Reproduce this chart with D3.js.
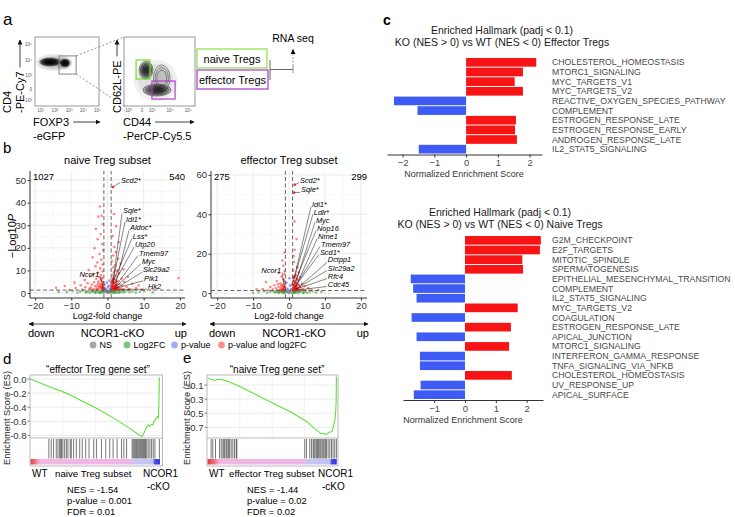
<!DOCTYPE html>
<html><head><meta charset="utf-8">
<script src="https://cdn.jsdelivr.net/npm/d3@7/dist/d3.min.js"></script>
<style>
html,body{margin:0;padding:0;background:#fff;}
svg{display:block;font-family:'Liberation Sans',Arial,Helvetica,sans-serif;}
</style></head><body>
<svg id="fig" width="735" height="517" viewBox="0 0 735 517"></svg>
<script>
// ================= DATA =================
// Panel c (top): effector Tregs
const effHallmarks = ["CHOLESTEROL_HOMEOSTASIS","MTORC1_SIGNALING","MYC_TARGETS_V1","MYC_TARGETS_V2","REACTIVE_OXYGEN_SPECIES_PATHWAY","COMPLEMENT","ESTROGEN_RESPONSE_LATE","ESTROGEN_RESPONSE_EARLY","ANDROGEN_RESPONSE_LATE","IL2_STAT5_SIGNALING"];
const effNES = [2.21,1.79,1.53,1.79,-2.27,-1.53,1.57,1.54,1.60,-1.49];
const effNesTicks = [-2,-1,0,1,2];
// Panel c (bottom): naive Tregs
const naiveHallmarks = ["G2M_CHECKPOINT","E2F_TARGETS","MITOTIC_SPINDLE","SPERMATOGENESIS","EPITHELIAL_MESENCHYMAL_TRANSITION","COMPLEMENT","IL2_STAT5_SIGNALING","MYC_TARGETS_V2","COAGULATION","ESTROGEN_RESPONSE_LATE","APICAL_JUNCTION","MTORC1_SIGNALING","INTERFERON_GAMMA_RESPONSE","TNFA_SIGNALING_VIA_NFKB","CHOLESTEROL_HOMEOSTASIS","UV_RESPONSE_UP","APICAL_SURFACE"];
const naiveNES = [2.46,2.43,1.86,1.88,-1.76,-1.68,-1.57,1.71,-1.73,1.49,-1.57,1.43,-1.46,-1.46,1.52,-1.44,-1.66];
const naiveNesTicks = [-1,0,1,2];

// Panel b: volcano plots  [log2FC, -log10 P]
const fcTicks = [-20,-10,0,10,20];
const fcMinor = [-15,-5,5,15];
const naivePTicks = [0,10,20,30,40,50];
const naivePMinor = [5,15,25,35,45];
const effPTicks = [0,20,40,60];
const effPMinor = [10,30,50];
const naiveCounts = ["1027","540"];
const effCounts = ["275","299"];
const naiveRed = [[1.5,46.9],[-2.1,38.3],[-1.6,34.2],[-2.5,33.8],[1.8,35.0],[-1.3,30.5],[-3.2,28.4],[2.4,29.6],[-1.9,26.1],[1.4,25.2],[-2.7,23.8],[3.1,22.5],[-1.5,21.7],[1.9,20.4],[-3.6,19.8],[-1.2,18.9],[2.3,18.1],[-2.2,17.3],[1.6,16.6],[-4.1,15.8],[2.9,15.2],[-1.7,14.7],[1.2,14.1],[-2.8,13.5],[3.6,13.0],[-1.4,12.6],[2.1,12.2],[-3.3,11.8],[1.5,11.3],[-2.0,10.9],[4.4,10.5],[-5.2,10.2],[2.6,9.9],[-1.3,9.6],[1.8,9.3],[-2.6,9.0],[3.2,8.7],[-3.9,8.4],[1.3,8.2],[-1.8,7.9],[2.3,7.6],[-4.8,7.4],[5.6,7.2],[-2.3,7.0],[1.6,6.8],[-1.4,6.6],[3.9,6.4],[-3.1,6.2],[2.0,6.0],[-6.3,5.8],[-1.7,5.6],[1.4,5.5],[2.8,5.3],[-2.5,5.1],[4.6,5.0],[-3.7,4.8],[1.2,4.7],[-1.2,4.5],[2.2,4.4],[-5.5,4.3],[6.8,4.1],[-2.0,4.0],[3.3,3.9],[-4.3,3.8],[1.7,3.7],[-1.5,3.6],[2.6,3.5],[-7.4,3.4],[-2.8,3.3],[4.1,3.2],[1.3,3.1],[-3.4,3.0],[-1.3,2.9],[2.0,2.8],[5.3,2.7],[-6.1,2.6],[-2.2,2.6],[3.0,2.5],[-4.6,2.4],[1.5,2.4],[-1.7,2.3],[7.9,2.2],[-8.8,2.2],[2.4,2.1],[-3.0,2.1],[-1.1,2.0],[3.7,2.0],[-5.0,1.9],[1.2,1.9],[6.0,1.8],[-2.4,1.8],[-3.8,1.7],[2.7,1.7],[-1.5,1.6],[4.4,1.6],[-7.0,1.55],[1.8,1.5],[-2.9,1.5],[9.5,1.45],[-1.2,1.45],[3.3,1.4],[-4.2,1.4],[2.2,1.35],[-10.5,1.35],[5.8,1.35],[19.6,6.6],[-14.2,2.3],[12.4,1.9],[-11.8,3.1],[8.6,3.3],[-9.1,4.6],[1.1,3.4],[1.3,2.2],[1.6,4.2],[-1.1,3.8],[-1.4,2.5],[-1.9,3.1],[1.9,2.5],[2.5,3.0],[-2.6,4.2],[1.4,1.7],[-1.6,1.9],[2.1,1.6],[-2.2,2.9],[1.7,3.0],[-1.3,4.9],[1.2,5.8],[-1.8,6.3],[2.4,4.9],[1.0,2.6],[-1.0,2.4]];
const naiveGreen = [[-11.2,0.4],[-9.6,0.9],[-8.3,0.2],[-7.5,0.6],[-6.8,1.1],[-6.0,0.3],[-5.4,0.8],[-4.9,0.15],[-4.4,0.55],[-3.9,1.0],[-3.5,0.3],[-3.1,0.7],[-2.8,1.15],[-2.5,0.1],[-2.2,0.5],[-1.9,0.85],[-1.7,0.25],[-1.5,1.1],[-1.3,0.6],[-1.1,0.2],[1.1,0.4],[1.3,0.9],[1.5,0.15],[1.7,0.65],[1.9,1.05],[2.2,0.3],[2.5,0.75],[2.8,0.1],[3.1,1.0],[3.5,0.45],[3.9,0.85],[4.4,0.2],[4.9,0.6],[5.5,1.1],[6.1,0.35],[6.9,0.75],[7.8,0.2],[8.9,0.55],[10.2,0.9],[12.5,0.3],[-13.5,0.5],[-2.0,0.05],[2.0,0.05],[-1.2,0.95],[1.2,0.7],[-3.3,0.05],[3.3,0.2],[-4.0,0.8],[4.2,1.2],[-5.8,0.5]];
const naiveBlue = [[-0.6,2.0],[0.4,3.2],[-0.2,4.6],[0.7,1.8],[-0.8,3.6],[0.1,2.6],[0.5,5.5],[-0.4,1.5]];
const naiveGrey = [[-0.5,0.3],[0.3,0.8],[-0.1,0.5],[0.6,0.2],[-0.8,1.0],[0.2,0.1],[-0.3,1.1],[0.8,0.6]];
const effRed = [[1.6,55.0],[1.4,51.0],[1.5,36.4],[2.1,27.5],[-1.2,20.6],[1.3,18.8],[1.4,15.8],[-1.6,13.9],[2.3,13.2],[-2.8,10.2],[1.2,11.5],[-1.3,9.6],[1.9,9.1],[-2.1,8.4],[3.0,8.0],[1.1,7.5],[-1.6,7.0],[2.4,6.6],[-6.4,5.6],[-3.4,6.1],[1.5,6.2],[-1.2,5.7],[1.9,5.3],[-2.4,5.0],[3.6,4.8],[1.2,4.6],[-1.5,4.4],[2.5,4.2],[-4.1,4.0],[1.6,3.9],[-1.9,3.7],[4.3,3.5],[-1.2,3.4],[2.1,3.3],[-2.9,3.2],[1.3,3.1],[-5.2,3.0],[3.1,2.9],[-1.6,2.8],[1.8,2.7],[-2.3,2.6],[5.4,2.5],[1.1,2.5],[-3.6,2.4],[2.6,2.3],[-1.3,2.2],[1.5,2.2],[-2.0,2.1],[3.8,2.0],[-7.3,2.0],[1.2,1.9],[-1.7,1.9],[2.3,1.8],[-4.5,1.8],[6.2,1.7],[-1.1,1.7],[1.7,1.6],[-2.6,1.6],[3.2,1.55],[-1.4,1.5],[1.3,1.5],[-3.2,1.45],[2.0,1.45],[-5.8,1.4],[4.6,1.4],[-1.9,1.35],[1.6,1.35],[8.1,1.6],[-9.0,1.9],[-1.2,11.0],[2.7,10.6],[-1.8,16.5],[1.6,22.0],[-2.2,3.9],[2.8,4.1],[1.4,8.6],[-1.4,6.3],[2.2,7.3],[-3.1,4.6],[1.1,3.8],[-1.1,2.9],[1.9,2.1],[2.4,1.55],[-2.1,1.45]];
const effGreen = [[-8.5,0.5],[-7.0,0.9],[-6.1,0.2],[-5.2,0.7],[-4.5,1.1],[-4.0,0.3],[-3.5,0.8],[-3.0,0.1],[-2.6,0.55],[-2.3,1.0],[-2.0,0.3],[-1.8,0.75],[-1.6,1.15],[-1.4,0.2],[-1.2,0.6],[-1.05,1.0],[1.05,0.35],[1.2,0.85],[1.4,0.15],[1.6,0.6],[1.8,1.1],[2.0,0.3],[2.3,0.8],[2.6,0.1],[3.0,0.55],[3.4,1.0],[3.9,0.25],[4.4,0.7],[5.0,0.15],[5.7,0.5],[6.5,0.9],[7.5,0.3],[9.0,0.6],[-10.0,0.2],[-1.5,0.05],[1.5,0.05],[-2.8,0.4],[2.8,0.95],[-3.8,0.6],[4.0,0.05]];
const effBlue = [[-0.5,2.2],[0.3,3.8],[-0.7,5.2],[0.6,2.0],[0.1,7.5],[-0.3,1.6],[0.8,4.4]];
const effGrey = [[-0.4,0.4],[0.2,0.9],[0.6,0.2],[-0.7,0.7],[0.0,0.1]];
// labelled genes: point value and repelled label position (data units)
const naiveGenes = ["Scd2*","Sqle*","Idi1*","Aldoc*","Lss*","Utp20","Tmem97","Myc","Slc29a2","Plk1","Hk2","Ncor1"];
const naiveGeneFC = [1.5,1.6,1.5,2.2,1.4,1.3,2.0,1.8,2.5,1.5,3.0,-1.2];
const naiveGeneP = [46.9,6.0,5.0,3.5,4.5,3.0,2.5,2.0,2.2,1.8,1.6,2.2];
const naiveLabelFC = [3.72,4.28,5.1,6.2,7.0,7.6,8.7,9.5,9.8,10.1,11.2,-2.3];
const naiveLabelP = [50.0,36.3,32.6,28.9,25.1,21.4,17.7,14.0,10.3,6.5,2.8,8.4];
const effGenes = ["Scd2*","Sqle*","Idi1*","Ldlr*","Myc","Nop16","Nme1","Tmem97","Scd1*","Dctpp1","Slc29a2","Rfc4","Cdc45","Ncor1"];
const effGeneFC = [1.6,1.4,1.5,1.2,1.8,1.3,2.0,1.6,1.4,2.2,1.8,1.5,2.5,-1.3];
const effGeneP = [55.0,51.0,8.0,6.0,5.0,4.0,3.5,3.0,2.5,2.2,2.0,1.8,1.6,3.0];
const effLabelFC = [3.06,3.33,6.4,6.9,7.5,7.8,8.1,8.9,8.6,10.8,10.8,10.8,10.8,-2.2];
const effLabelP = [57.4,52.4,45.2,41.1,37.1,33.0,28.9,24.9,20.8,16.8,12.7,8.6,4.6,11.7];
const legendLabels = ["NS","Log2FC","p-value","p-value and log2FC"];

// Panels d/e: GSEA running enrichment score [rank fraction, ES]
const effGseaRank = [0,0.147,0.277,0.405,0.535,0.664,0.767,0.819,0.845,0.86,0.87,0.884,0.897,0.907,0.915,0.922,0.936,0.946,0.953,0.969,0.981,0.988,0.992,0.995];
const effGseaES = [0.0,-0.11,-0.20,-0.32,-0.44,-0.58,-0.70,-0.77,-0.80,-0.815,-0.79,-0.73,-0.68,-0.65,-0.66,-0.67,-0.64,-0.65,-0.61,-0.56,-0.53,-0.55,-0.30,0.02];
const effGseaHits = [0.142,0.16,0.178,0.199,0.212,0.225,0.233,0.24,0.25,0.264,0.277,0.289,0.307,0.315,0.333,0.354,0.38,0.40,0.426,0.452,0.488,0.509,0.548,0.581,0.612,0.638,0.669,0.703,0.721,0.742,0.785,0.793,0.801,0.809,0.817,0.824,0.832,0.840,0.848,0.856,0.864,0.872,0.880,0.888,0.897,0.909,0.922,0.935,0.948,0.961,0.995];
const effGseaTicks = [0,-0.2,-0.4,-0.6,-0.8];
const effGseaStats = ["NES = -1.54","p-value = 0.001","FDR = 0.01"];
const naiveGseaRank = [0,0.029,0.063,0.073,0.107,0.146,0.25,0.38,0.51,0.64,0.77,0.823,0.875,0.922,0.94,0.963,0.974,0.987,0.992,0.995,0.997];
const naiveGseaES = [0.0,-0.02,-0.035,-0.02,-0.02,-0.04,-0.12,-0.24,-0.36,-0.48,-0.62,-0.71,-0.785,-0.80,-0.77,-0.76,-0.69,-0.57,-0.45,-0.36,0.02];
const naiveGseaHits = [0.028,0.041,0.062,0.093,0.106,0.119,0.127,0.134,0.145,0.152,0.163,0.171,0.183,0.196,0.209,0.222,0.227,0.752,0.765,0.791,0.804,0.817,0.824,0.832,0.842,0.85,0.858,0.868,0.876,0.886,0.894,0.902,0.912,0.92,0.933,0.946,0.959,0.971,0.984,0.997];
const naiveGseaTicks = [-0.1,-0.3,-0.5,-0.7];
const naiveGseaStats = ["NES = -1.44","p-value = 0.02","FDR = 0.02"];

// Panel a: flow cytometry (log-decade units)
const flow1XTickVals = [1,2,3,4,5];
const flow1XTickLabels = ["10¹","10²","10³","10⁴","10⁵"];
const flowYTickVals = [5,4,3,2.1,1.4];
const flowYTickLabels = ["10⁵","10⁴","10³","0","-10³"];
const flow2XTickVals = [1.05,2.0,2.65,3.85,5.05];
const flow2XTickLabels = ["-10³","0","10³","10⁴","10⁵"];
const flow1Halo = [[1.95,3.85,1.25,0.55],[2.6,3.8,0.6,0.4]];
const flow1Pops = [[1.66,3.89,0.77,0.29],[2.71,3.82,0.36,0.27]];
const flow1Gate = [2.29,3.49,3.11,4.28];
const flow2Halo = [[2.9,2.7,1.45,1.35]];
const flow2Pops = [[2.26,3.37,0.46,0.58],[2.99,2.08,0.93,0.39]];
const flow2Bridge = [[3.3,2.85,0.55,0.85]];
const naiveGate = [1.6,2.52,2.79,4.02];
const effGate = [2.65,4.18,1.50,2.66];

// ================= DRAWING =================
const RED = "#f81414", BLUE = "#3f5bf6";
const svg = d3.select("#fig");
const defs = svg.append("defs");
defs.append("marker").attr("id","arr").attr("viewBox","0 0 10 10").attr("refX",9).attr("refY",5)
  .attr("markerUnits","userSpaceOnUse").attr("markerWidth",5).attr("markerHeight",5)
  .attr("orient","auto-start-reverse").append("path").attr("d","M0,0L10,5L0,10z").attr("fill","#111");

function T(g,x,y,s,size,o={}){
  const t=g.append("text").attr("x",x).attr("y",y).text(s).attr("font-size",size)
    .attr("fill",o.fill||"#000").attr("text-anchor",o.anchor||"start")
    .attr("dominant-baseline",o.base||"central");
  if(o.style) t.attr("font-style",o.style);
  if(o.weight) t.attr("font-weight",o.weight);
  if(o.rotate!==undefined) t.attr("transform",`rotate(${o.rotate},${x},${y})`);
  return t;
}
function L(g,x1,y1,x2,y2,stroke,w,o={}){
  const l=g.append("line").attr("x1",x1).attr("y1",y1).attr("x2",x2).attr("y2",y2)
    .attr("stroke",stroke).attr("stroke-width",w);
  if(o.dash) l.attr("stroke-dasharray",o.dash);
  if(o.end) l.attr("marker-end","url(#arr)");
  if(o.start) l.attr("marker-start","url(#arr)");
  return l;
}

// panel letters
T(svg,3,25,"a",17,{base:"auto"});
T(svg,3,153,"b",15,{base:"auto"});
T(svg,383,25,"c",14,{base:"auto",weight:"bold"});
T(svg,3,364,"d",15,{base:"auto"});
T(svg,183,363,"e",15,{base:"auto"});

// ---------- Panel a ----------
(function(){
  const A = svg.append("g");
  const fy = d3.scaleLinear().domain([1.05,5.5]).range([106,37]);
  const fx1 = d3.scaleLinear().domain([0.6,5.1]).range([35,99]);
  const fx2 = d3.scaleLinear().domain([0.8,5.5]).range([124,195]);
  function pops(g,xs,pList,levels,op,stroke){
    pList.forEach(p=>{
      levels.forEach(l=>{
        g.append("ellipse").attr("cx",xs(p[0])).attr("cy",fy(p[1]))
          .attr("rx",Math.abs(xs(p[0]+p[2]*l)-xs(p[0]))).attr("ry",Math.abs(fy(p[1]+p[3]*l)-fy(p[1])))
          .attr("fill","#000").attr("fill-opacity",op)
          .attr("stroke",stroke||"none").attr("stroke-width",0.5).attr("stroke-opacity",0.9);
      });
    });
  }
  // plot 1
  pops(A,fx1,flow1Halo,[1,0.75],0.1,null);
  pops(A,fx1,flow1Pops,[1,0.85,0.7,0.55,0.4,0.25],0.45,null);
  A.append("rect").attr("x",fx1.range()[0]).attr("y",fy.range()[1])
   .attr("width",fx1.range()[1]-fx1.range()[0]).attr("height",fy.range()[0]-fy.range()[1])
   .attr("fill","none").attr("stroke","#8c8c8c").attr("stroke-width",0.9);
  A.append("rect").attr("x",fx1(flow1Gate[0])).attr("y",fy(flow1Gate[3]))
   .attr("width",fx1(flow1Gate[1])-fx1(flow1Gate[0])).attr("height",fy(flow1Gate[2])-fy(flow1Gate[3]))
   .attr("fill","none").attr("stroke","#777").attr("stroke-width",0.9);
  flow1XTickVals.forEach((v,i)=>T(A,fx1(v),110.5,flow1XTickLabels[i],4.6,{anchor:"middle",fill:"#555"}));
  flowYTickVals.forEach((v,i)=>T(A,32,fy(v),flowYTickLabels[i],4.6,{anchor:"end",fill:"#555"}));
  // plot 2
  pops(A,fx2,flow2Halo,[1,0.8],0.06,null);
  pops(A,fx2,flow2Bridge,[1,0.8,0.6],0.05,"#222");
  pops(A,fx2,flow2Pops,[1,0.82,0.66,0.5,0.36,0.22],0.24,"#222");
  A.append("rect").attr("x",fx2.range()[0]).attr("y",fy.range()[1])
   .attr("width",fx2.range()[1]-fx2.range()[0]).attr("height",fy.range()[0]-fy.range()[1])
   .attr("fill","none").attr("stroke","#8c8c8c").attr("stroke-width",0.9);
  [[naiveGate,"#6ee02a"],[effGate,"#b03fd0"]].forEach(([gt,c])=>{
    A.append("rect").attr("x",fx2(gt[0])).attr("y",fy(gt[3]))
     .attr("width",fx2(gt[1])-fx2(gt[0])).attr("height",fy(gt[2])-fy(gt[3]))
     .attr("fill","none").attr("stroke",c).attr("stroke-width",1.2);
  });
  flow2XTickVals.forEach((v,i)=>T(A,fx2(v),110.5,flow2XTickLabels[i],4.6,{anchor:"middle",fill:"#555"}));
  // connectors
  L(A,fx1(flow1Gate[1]),fy(flow1Gate[3]),fx2.range()[0],fy.range()[1],"#666",0.7,{dash:"2,2"});
  L(A,fx1(flow1Gate[1]),fy(flow1Gate[2]),fx2.range()[0],fy.range()[0],"#666",0.7,{dash:"2,2"});
  // axis labels
  let t=T(A,33,122,"FOXP3",11);
  L(A,33+t.node().getComputedTextLength()+4,122,100,122,"#111",0.8,{end:true});
  T(A,33,135.5,"-eGFP",11);
  t=T(A,123,122,"CD44",11);
  L(A,123+t.node().getComputedTextLength()+4,122,194,122,"#111",0.8,{end:true});
  T(A,123,135.5,"-PerCP-Cy5.5",11);
  T(A,7,113,"CD4",11,{rotate:-90});
  t=T(A,20,113,"-PE-Cy7",11,{rotate:-90});
  L(A,20,113-t.node().getComputedTextLength()-4,20,40,"#111",0.8,{end:true});
  t=T(A,117,113,"CD62L-PE",11,{rotate:-90});
  L(A,117,113-t.node().getComputedTextLength()-4,117,40,"#111",0.8,{end:true});
  // sorted populations
  A.append("rect").attr("x",197).attr("y",49).attr("width",70).attr("height",19)
   .attr("fill","none").attr("stroke","#8fe450").attr("stroke-width",1.3);
  T(A,232,58.8,"naive Tregs",11,{anchor:"middle"});
  A.append("rect").attr("x",197).attr("y",70).attr("width",71).attr("height",19)
   .attr("fill","none").attr("stroke","#b444cc").attr("stroke-width",1.3);
  T(A,232.5,79.8,"effector Tregs",11,{anchor:"middle"});
  L(A,270,60,270,80,"#555",0.9);
  L(A,270,69.5,293,69.5,"#555",0.9);
  L(A,293,66,293,73,"#888",0.9);
  L(A,293,66,293,50,"#999",1,{dash:"2,1.5"});
  L(A,293,54,293,49.5,"#111",0.6,{end:true});
  T(A,293,38,"RNA seq",10.5,{anchor:"middle"});
})();

// ---------- Panel b: volcanoes ----------
function volcano(cfg){
  const g = svg.append("g");
  const x = d3.scaleLinear().domain(cfg.xDom).range(cfg.xRange);
  const y = d3.scaleLinear().domain(cfg.yDom).range(cfg.yRange);
  const [x0,x1]=cfg.xRange, [yb,yt]=cfg.yRange;
  fcMinor.forEach(v=>L(g,x(v),yb,x(v),yt,"#f1f1f1",0.6));
  cfg.pMinor.forEach(v=>L(g,x0,y(v),x1,y(v),"#f1f1f1",0.6));
  fcTicks.forEach(v=>L(g,x(v),yb,x(v),yt,"#e3e3e3",0.7));
  cfg.pTicks.forEach(v=>L(g,x0,y(v),x1,y(v),"#e3e3e3",0.7));
  const groups=[[cfg.grey,"#555",0.5],[cfg.green,"#2a9a2a",0.55],[cfg.blue,"#4169e1",0.6],[cfg.red,"#ff1010",0.5]];
  groups.forEach(([pts,c,op])=>{
    g.append("g").selectAll("circle").data(pts).join("circle")
     .attr("cx",d=>x(d[0])).attr("cy",d=>y(d[1])).attr("r",1.3)
     .attr("fill",c).attr("fill-opacity",op);
  });
  // cut-offs
  [-1,1].forEach(v=>L(g,x(v),yb,x(v),yt,"#555",0.9,{dash:"4,2.5"}));
  L(g,x0,y(1.3),x1,y(1.3),"#555",0.9,{dash:"4,2.5"});
  // labels
  cfg.genes.forEach((name,i)=>{
    const px=x(cfg.geneFC[i]), py=y(cfg.geneP[i]);
    const lx=x(cfg.labFC[i]), ly=y(cfg.labP[i]);
    const right = cfg.labFC[i]<0;
    L(g,px,py,lx+(right?1:-1),ly+2.5,"#111",0.5);
    g.append("circle").attr("cx",px).attr("cy",py).attr("r",1.3).attr("fill","#ff1010").attr("fill-opacity",0.7);
    T(g,lx,ly,name,7.4,{style:"italic",anchor:right?"end":"start"});
  });
  // axes
  const ya=g.append("g").attr("transform",`translate(${x0},0)`)
    .call(d3.axisLeft(y).tickValues(cfg.pTicks).tickSize(2.5).tickSizeOuter(0).tickPadding(1.5).tickFormat(d3.format("d")));
  ya.select(".domain").attr("d",`M0,${yb}V${yt}`).attr("stroke","#333");
  ya.selectAll("text").attr("font-size",9.5).attr("fill","#333").attr("font-family",null);
  ya.selectAll(".tick line").attr("stroke","#333");
  const xa=g.append("g").attr("transform",`translate(0,${yb})`)
    .call(d3.axisBottom(x).tickValues(fcTicks).tickSize(2.5).tickSizeOuter(0).tickPadding(1.5));
  xa.select(".domain").attr("d",`M${x0},0H${x1}`).attr("stroke","#333");
  xa.selectAll("text").attr("font-size",9.5).attr("fill","#333").attr("font-family",null);
  xa.selectAll(".tick line").attr("stroke","#333");
  T(g,(x0+x1)/2,160,cfg.title,11,{anchor:"middle"});
  T(g,x0+3,176,cfg.counts[0],9.5);
  T(g,x1,176,cfg.counts[1],9.5,{anchor:"end"});
  T(g,x(0),316,"Log2-fold change",9,{anchor:"middle"});
  L(g,x0-1,324,x1+1,324,"#222",0.8,{start:true,end:true});
  T(g,x0-2,333,"down",11);
  T(g,x(0)+5,333,"NCOR1-cKO",11,{anchor:"middle"});
  T(g,x1+2,333,"up",11,{anchor:"end"});
  return {x,y};
}
volcano({xDom:[-21.4,21.4],xRange:[30,185],yDom:[-2.2,54],yRange:[298,171],
  pTicks:naivePTicks,pMinor:naivePMinor,red:naiveRed,green:naiveGreen,blue:naiveBlue,grey:naiveGrey,
  genes:naiveGenes,geneFC:naiveGeneFC,geneP:naiveGeneP,labFC:naiveLabelFC,labP:naiveLabelP,
  title:"naive Treg subset",counts:naiveCounts});
volcano({xDom:[-21.7,21.7],xRange:[211,367],yDom:[-2.5,62],yRange:[298,171],
  pTicks:effPTicks,pMinor:effPMinor,red:effRed,green:effGreen,blue:effBlue,grey:effGrey,
  genes:effGenes,geneFC:effGeneFC,geneP:effGeneP,labFC:effLabelFC,labP:effLabelP,
  title:"effector Treg subset",counts:effCounts});
// y-axis title
(function(){
  const t=svg.append("text").attr("transform","translate(12,236) rotate(-90)")
    .attr("text-anchor","middle").attr("dominant-baseline","central").attr("font-size",11);
  t.append("tspan").text("\u2212Log10");
  t.append("tspan").attr("font-style","italic").text("P");
})();
// legend
(function(){
  const g=svg.append("g");
  const cols=["#a6a6a6","#7cc47c","#9fb0f2","#ff8f8f"];
  const xs=[93,127,174.5,221.5];
  legendLabels.forEach((s,i)=>{
    g.append("circle").attr("cx",xs[i]).attr("cy",345).attr("r",3.4).attr("fill",cols[i]);
    T(g,xs[i]+6.5,345,s,9);
  });
})();

// ---------- Panel c: hallmark bars ----------
function hallmarkBars(cfg){
  const g=svg.append("g");
  const x=d3.scaleLinear().domain(cfg.xDom).range(cfg.xRange);
  const y=d3.scaleBand().domain(cfg.names).range(cfg.yRange).paddingInner(0.1);
  g.selectAll("rect").data(cfg.values).join("rect")
    .attr("x",v=>x(Math.min(0,v))).attr("width",v=>Math.abs(x(v)-x(0)))
    .attr("y",(v,i)=>y(cfg.names[i])).attr("height",y.bandwidth())
    .attr("fill",v=>v>0?RED:BLUE);
  cfg.names.forEach(n=>T(g,552,y(n)+y.bandwidth()/2,n,8.7,{fill:"#4a4a4a"}));
  const ax=g.append("g").attr("transform",`translate(0,${cfg.axisY})`)
    .call(d3.axisBottom(x).tickValues(cfg.ticks).tickSize(3).tickSizeOuter(0).tickPadding(2).tickFormat(d3.format("d")));
  ax.select(".domain").attr("stroke","#333");
  ax.selectAll(".tick line").attr("stroke","#333");
  ax.selectAll("text").attr("font-size",9.5).attr("fill","#4a4a4a").attr("font-family",null);
  T(g,cfg.xLabelX,cfg.axisY+19.5,"Normalized Enrichment Score",9,{anchor:"middle",fill:"#333"});
  T(g,cfg.titleX,cfg.titleY[0],"Enriched Hallmark (padj < 0.1)",10.5,{anchor:"middle",fill:"#1a1a1a"});
  T(g,cfg.titleX,cfg.titleY[1],cfg.title2,10.5,{anchor:"middle",fill:"#1a1a1a"});
}
hallmarkBars({names:effHallmarks,values:effNES,ticks:effNesTicks,xDom:[-2.49,2.39],xRange:[387,542],
  yRange:[58,153.5],axisY:154.5,xLabelX:464,titleX:502,titleY:[30,41.5],
  title2:"KO (NES > 0) vs WT (NES < 0) Effector Tregs"});
hallmarkBars({names:naiveHallmarks,values:naiveNES,ticks:naiveNesTicks,xDom:[-2.01,2.53],xRange:[403,543],
  yRange:[236,399],axisY:400,xLabelX:463,titleX:500,titleY:[212,223.5],
  title2:"KO (NES > 0) vs WT (NES < 0) Naive Tregs"});

// ---------- Panels d/e: GSEA ----------
function gsea(cfg){
  const g=svg.append("g");
  const x=d3.scaleLinear().domain([0,1]).range(cfg.xr);
  const top=375, split=438, barTop=459, barBot=464.5, bottom=466;
  const y=d3.scaleLinear().domain(cfg.esDom).range([top,split]);
  [0.25,0.5,0.75].forEach(f=>L(g,x(f),top,x(f),split,"#ececec",0.7));
  cfg.ticks.forEach(v=>L(g,cfg.x0,y(v),cfg.x1,y(v),"#e4e4e4",0.7));
  g.append("path").datum(d3.zip(cfg.rank,cfg.es))
    .attr("d",d3.line().x(d=>x(d[0])).y(d=>y(d[1])))
    .attr("fill","none").attr("stroke","#5fe23a").attr("stroke-width",1.1);
  g.append("g").selectAll("line").data(cfg.hits).join("line")
    .attr("x1",d=>x(d)).attr("x2",d=>x(d)).attr("y1",split+1).attr("y2",barTop-0.5)
    .attr("stroke","#000").attr("stroke-opacity",0.6).attr("stroke-width",0.9);
  const gid="grad"+cfg.id;
  const gr=defs.append("linearGradient").attr("id",gid);
  cfg.ramp.forEach(s=>gr.append("stop").attr("offset",s[0]).attr("stop-color",s[1]));
  g.append("rect").attr("x",cfg.xr[0]).attr("y",barTop).attr("width",cfg.xr[1]-cfg.xr[0])
    .attr("height",barBot-barTop).attr("fill",`url(#${gid})`);
  L(g,cfg.x0,split,cfg.x1,split,"#aaa",0.8);
  g.append("rect").attr("x",cfg.x0).attr("y",top).attr("width",cfg.x1-cfg.x0).attr("height",bottom-top)
    .attr("fill","none").attr("stroke","#aaa").attr("stroke-width",0.8);
  cfg.ticks.forEach(v=>{
    L(g,cfg.x0-2.5,y(v),cfg.x0,y(v),"#555",0.7);
    T(g,cfg.x0-3.5,y(v),v.toFixed(1),9.5,{anchor:"end",fill:"#333"});
  });
  T(g,cfg.ylabX,418,"Enrichment Score (ES)",9.2,{anchor:"middle",rotate:-90,fill:"#222"});
  T(g,cfg.titleX,369,cfg.title,10,{anchor:"middle"});
  T(g,cfg.x0+2,473,"WT",10);
  T(g,cfg.subX,473,cfg.sub,9.7);
  T(g,cfg.koX,473,"NCOR1",10);
  T(g,cfg.koX+4,486.5,"-cKO",10);
  cfg.stats.forEach((s,i)=>T(g,cfg.statX,489.5+11*i,s,9.4));
}
gsea({id:"d",x0:30,x1:162.5,xr:[30.5,160],esDom:[0.057,-0.837],rank:effGseaRank,es:effGseaES,
  hits:effGseaHits,ticks:effGseaTicks,stats:effGseaStats,ylabX:7,titleX:98,
  title:"\u201Ceffector Treg gene set\u201D",sub:"naive Treg subset",subX:55,koX:143,statX:67,
  ramp:[[0,"#e8383c"],[0.045,"#ee8a96"],[0.075,"#f3b6e3"],[0.77,"#efb6e6"],[0.8,"#c9c6f3"],[0.945,"#bfc1f4"],[0.96,"#4848e4"],[1,"#3838de"]]});
gsea({id:"e",x0:207,x1:338,xr:[207.5,336.8],esDom:[0.043,-0.851],rank:naiveGseaRank,es:naiveGseaES,
  hits:naiveGseaHits,ticks:naiveGseaTicks,stats:naiveGseaStats,ylabX:187,titleX:277,
  title:"\u201Cnaive Treg gene set\u201D",sub:"effector Treg subset",subX:229,koX:318,statX:247,
  ramp:[[0,"#e8383c"],[0.06,"#ee7c88"],[0.09,"#f3b6e3"],[0.74,"#efb6e6"],[0.77,"#c9c6f3"],[0.945,"#bfc1f4"],[0.96,"#4848e4"],[1,"#3838de"]]});
</script></body></html>
